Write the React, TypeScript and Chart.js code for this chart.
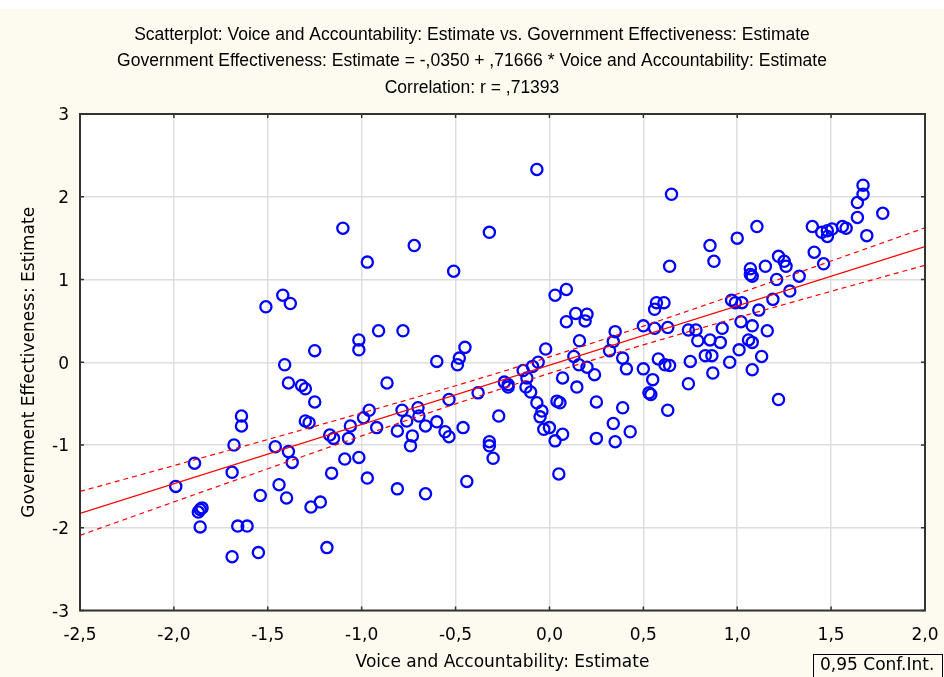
import React, { useEffect, useRef } from "react";
import { Chart, registerables } from "chart.js";

Chart.register(...registerables);

// ---------- texts ----------
const TITLE_LINES = [
  "Scatterplot: Voice and Accountability: Estimate vs. Government Effectiveness: Estimate",
  "Government Effectiveness: Estimate = -,0350 + ,71666 * Voice and Accountability: Estimate",
  "Correlation: r = ,71393",
];
const X_TITLE = "Voice and Accountability: Estimate";
const Y_TITLE = "Government Effectiveness: Estimate";
const LEGEND_TEXT = "0,95 Conf.Int.";

// ---------- axes ----------
const X_TICK_LABELS = ["-2,5", "-2,0", "-1,5", "-1,0", "-0,5", "0,0", "0,5", "1,0", "1,5", "2,0"];
const Y_TICK_LABELS = ["-3", "-2", "-1", "0", "1", "2", "3"];
const X_MIN = -2.5;
const X_MAX = 2.0;
const X_STEP = 0.5;
const Y_MIN = -3;
const Y_MAX = 3;
const Y_STEP = 1;

// ---------- regression (from the title) ----------
const INTERCEPT = -0.035;
const SLOPE = 0.71666;
const T_CRIT = 1.972; // 0.95 two-sided

// ---------- data ----------
const voiceAccountability = [
  -1.51, -1.42, -1.38, -1.41, -1.39, -1.32, -1.30, -1.64, -1.64, -1.68, -1.46, -1.39, -1.37, -1.89,
  -1.69, -1.99, -1.44, -1.54, -1.40, -1.85, -1.87, -1.86, -1.86, -1.66, -1.61, -1.69, -1.55,
  -1.10, -0.72, -0.97, -0.91, -0.78, -1.015, -1.015, -1.25, -0.865, -1.25, -1.30, -1.28, -0.96,
  -0.99, -1.06, -0.92, -1.17, -1.15, -1.07, -1.09, -1.015, -1.16, -0.97, -1.27, -1.22, -1.185,
  -0.785, -0.70, -0.76, -0.695, -0.81, -0.66, -0.60, -0.73, -0.74, -0.81, -0.66, -0.60,
  -0.51, -0.32, -0.45, -0.48, -0.49, -0.556, -0.535, -0.46, -0.535, -0.38, -0.27, -0.32, -0.32,
  -0.30, -0.44, -0.24, -0.22, -0.22, -0.14, -0.09, -0.06, -0.12, -0.125, -0.10, -0.067, -0.04,
  -0.05, -0.03, 0.0, 0.03, 0.07, 0.05, 0.04, 0.056, -0.067, -0.02,
  0.03, 0.09, 0.09, 0.14, 0.19, 0.20, 0.16, 0.13, 0.35, 0.34, 0.32, 0.39, 0.50, 0.56, 0.63, 0.56,
  0.57, 0.61, 0.65, 0.64, 0.58, 0.20, 0.157, 0.41, 0.50, 0.615, 0.64, 0.07, 0.146, 0.24, 0.25,
  0.25, 0.34, 0.35, 0.39, 0.43, 0.55, 0.53, 0.54, 0.63,
  0.74, 0.78, 0.79, 0.855, 0.92, 0.83, 0.865, 0.75, 0.87, 0.74, 0.855, 0.876, 1.67, 1.67, 1.64,
  1.775, 1.64, 1.105, 1.00, 1.40, 1.45, 1.48, 1.505, 1.48, 1.56, 1.58, 1.69, 1.41, 1.46, 1.22,
  1.25, 1.26, 1.15, 1.07, 1.07, 1.08, 1.33, 1.21, 1.28, 1.19, 1.115, 0.97, 0.99, 1.025, 1.02,
  1.08, 1.16, 0.91, 1.06, 1.08, 1.01, 1.13, 0.96, 1.08, 1.22,
];
const governmentEffectiveness = [
  0.67, 0.81, 0.71, -0.03, -0.25, -0.28, -0.32, -0.65, -0.77, -1.0, -1.02, -1.08, -1.21, -1.22,
  -1.33, -1.50, -1.48, -1.61, -1.64, -1.76, -1.81, -1.78, -1.99, -1.98, -1.98, -2.35, -2.30,
  1.62, 1.41, 1.21, 0.38, 0.38, 0.27, 0.15, 0.14, -0.25, -0.48, -0.71, -0.73, -0.58,
  -0.67, -0.77, -0.79, -0.88, -0.92, -0.92, -1.17, -1.15, -1.34, -1.40, -1.75, -1.69, -2.24,
  -0.58, -0.55, -0.71, -0.65, -0.83, -0.77, -0.72, -0.89, -1.01, -1.53, -1.59, 0.01,
  1.10, 1.57, 0.18, 0.05, -0.03, -0.84, -0.90, -0.79, -0.45, -0.37, -0.65, -0.96, -1.01,
  -1.16, -1.44, -0.24, -0.27, -0.30, -0.10, -0.05, 0.0, -0.19, -0.30, -0.36, -0.49, -0.59,
  -0.66, -0.81, -0.79, -0.95, -0.87, -1.35, -0.47, -0.49, 2.33, 0.16,
  0.81, 0.88, 0.49, 0.59, 0.50, 0.58, 0.26, 0.07, 0.37, 0.25, 0.14, 0.05, 0.44, 0.41, 0.42, 0.64,
  0.72, 0.72, 2.03, 1.16, 0.04, -0.06, -0.03, -0.08, -0.08, -0.03, -0.04, -0.19, -0.30, -0.15, -0.48,
  -0.92, -0.74, -0.96, -0.55, -0.84, -0.21, -0.37, -0.39, -0.58,
  0.39, 0.39, 0.26, 0.27, 0.41, 0.08, 0.08, 0.01, -0.13, -0.26, 1.41, 1.22, 2.14, 2.03, 1.93,
  1.80, 1.75, 1.64, 1.50, 1.64, 1.57, 1.59, 1.61, 1.52, 1.64, 1.62, 1.53, 1.33, 1.19, 1.28,
  1.22, 1.16, 1.16, 1.13, 1.06, 1.04, 1.04, 1.00, 0.86, 0.76, 0.63, 0.75, 0.72, 0.72, 0.49,
  0.44, 0.38, 0.24, 0.27, 0.24, 0.15, 0.07, 0.00, -0.09, -0.45,
];

// ---------- styles ----------
const PAGE_BG = "#fdfaf0";
const POINT_COLOR = "#0000ff";
const LINE_COLOR = "#ff0000";
const GRID_COLOR = "#dedede";
const FRAME_COLOR = "#333333";
const FONT_FAMILY = "'DejaVu Sans', Verdana, sans-serif";
const TITLE_FONT = "17.5px 'Liberation Sans', Arial, sans-serif";
const TITLE_Y = [35, 61.5, 88];

// ---------- derived tables ----------
const points = voiceAccountability.map((x, i) => ({ x, y: governmentEffectiveness[i] }));

const n = voiceAccountability.length;
const meanX = voiceAccountability.reduce((s, v) => s + v, 0) / n;
const sxx = voiceAccountability.reduce((s, v) => s + (v - meanX) * (v - meanX), 0);
const sse = points.reduce((s, p) => {
  const r = p.y - (INTERCEPT + SLOPE * p.x);
  return s + r * r;
}, 0);
const resSd = Math.sqrt(sse / (n - 2));

const fitLine = [X_MIN, X_MAX].map((x) => ({ x, y: INTERCEPT + SLOPE * x }));
const bandXs: number[] = [];
for (let k = 0; k <= 90; k++) bandXs.push(X_MIN + ((X_MAX - X_MIN) * k) / 90);
const halfWidth = (x: number) => T_CRIT * resSd * Math.sqrt(1 / n + ((x - meanX) * (x - meanX)) / sxx);
const upperBand = bandXs.map((x) => ({ x, y: INTERCEPT + SLOPE * x + halfWidth(x) }));
const lowerBand = bandXs.map((x) => ({ x, y: INTERCEPT + SLOPE * x - halfWidth(x) }));

const framePlugin = {
  id: "statFrame",
  beforeDraw(chart: any) {
    const { ctx, chartArea: a, width, height } = chart;
    ctx.save();
    ctx.fillStyle = PAGE_BG;
    ctx.fillRect(0, 0, width, height);
    ctx.fillStyle = "#ffffff";
    ctx.fillRect(0, 0, width, 9);
    ctx.fillRect(a.left, a.top, a.right - a.left, a.bottom - a.top);
    ctx.restore();
  },
  afterDraw(chart: any) {
    const { ctx, chartArea: a, width } = chart;
    const xs = chart.scales.x;
    const ys = chart.scales.y;
    ctx.save();
    // inner tick marks
    ctx.strokeStyle = FRAME_COLOR;
    ctx.lineWidth = 1.5;
    ctx.beginPath();
    xs.ticks.forEach((t: any) => {
      const px = xs.getPixelForValue(t.value);
      ctx.moveTo(px, a.top);
      ctx.lineTo(px, a.top + 4);
      ctx.moveTo(px, a.bottom);
      ctx.lineTo(px, a.bottom - 4);
    });
    ys.ticks.forEach((t: any) => {
      const py = ys.getPixelForValue(t.value);
      ctx.moveTo(a.left, py);
      ctx.lineTo(a.left + 4, py);
      ctx.moveTo(a.right, py);
      ctx.lineTo(a.right - 4, py);
    });
    ctx.stroke();
    // frame
    ctx.lineWidth = 2;
    ctx.strokeRect(a.left, a.top, a.right - a.left, a.bottom - a.top);
    // title
    ctx.fillStyle = "#000000";
    ctx.font = TITLE_FONT;
    ctx.textAlign = "center";
    ctx.textBaseline = "middle";
    TITLE_LINES.forEach((t, i) => ctx.fillText(t, width / 2, TITLE_Y[i]));
    // legend box
    ctx.font = `17px ${FONT_FAMILY}`;
    ctx.textAlign = "left";
    ctx.fillText(LEGEND_TEXT, 820, 666);
    ctx.lineWidth = 1;
    ctx.strokeStyle = "#000000";
    ctx.strokeRect(813.5, 654.5, 129, 30);
    ctx.restore();
  },
};

export default function App() {
  const canvasRef = useRef<HTMLCanvasElement | null>(null);

  useEffect(() => {
    document.body.style.margin = "0";
    document.body.style.background = PAGE_BG;
    const canvas = canvasRef.current;
    if (!canvas) return;
    const chart = new Chart(canvas, {
      type: "scatter",
      data: {
        datasets: [
          {
            type: "line",
            data: fitLine,
            borderColor: LINE_COLOR,
            borderWidth: 1.2,
            pointRadius: 0,
            fill: false,
            tension: 0,
          } as any,
          {
            type: "line",
            data: upperBand,
            borderColor: LINE_COLOR,
            borderWidth: 1.2,
            borderDash: [5, 4],
            pointRadius: 0,
            fill: false,
            tension: 0,
          } as any,
          {
            type: "line",
            data: lowerBand,
            borderColor: LINE_COLOR,
            borderWidth: 1.2,
            borderDash: [5, 4],
            pointRadius: 0,
            fill: false,
            tension: 0,
          } as any,
          {
            type: "scatter",
            data: points,
            pointStyle: "circle",
            pointRadius: 5.6,
            pointHoverRadius: 5.6,
            borderColor: POINT_COLOR,
            backgroundColor: "rgba(0,0,0,0)",
            borderWidth: 2.3,
          } as any,
        ],
      },
      options: {
        responsive: false,
        animation: false,
        devicePixelRatio: 1,
        layout: { padding: { top: 114, right: 19, bottom: 0, left: 0 } },
        plugins: { legend: { display: false }, tooltip: { enabled: false } },
        scales: {
          x: {
            type: "linear",
            min: X_MIN,
            max: X_MAX,
            ticks: {
              stepSize: X_STEP,
              autoSkip: false,
              maxRotation: 0,
              padding: 15,
              color: "#000000",
              font: { family: FONT_FAMILY, size: 17 },
              callback: (_v: any, i: number) => X_TICK_LABELS[i],
            },
            grid: { color: GRID_COLOR, lineWidth: 1.5, drawTicks: false },
            border: { display: false },
            title: {
              display: true,
              text: X_TITLE,
              color: "#000000",
              font: { family: FONT_FAMILY, size: 17 },
              padding: { top: 0, bottom: 4 },
            },
            afterFit: (s: any) => {
              s.height = 66.5;
              s.paddingLeft = 0;
              s.paddingRight = 0;
            },
          },
          y: {
            type: "linear",
            min: Y_MIN,
            max: Y_MAX,
            ticks: {
              stepSize: Y_STEP,
              autoSkip: false,
              padding: 11,
              labelOffset: 2,
              color: "#000000",
              font: { family: FONT_FAMILY, size: 17 },
              callback: (_v: any, i: number) => Y_TICK_LABELS[i],
            },
            grid: { color: GRID_COLOR, lineWidth: 1.5, drawTicks: false },
            border: { display: false },
            title: {
              display: true,
              text: Y_TITLE,
              color: "#000000",
              font: { family: FONT_FAMILY, size: 17 },
              padding: { top: 19, bottom: 0 },
            },
            afterFit: (s: any) => {
              s.width = 80;
              s.paddingTop = 0;
              s.paddingBottom = 0;
            },
          },
        },
      } as any,
      plugins: [framePlugin],
    });
    return () => chart.destroy();
  }, []);

  return (
    <div style={{ width: 944, height: 677, background: PAGE_BG }}>
      <canvas ref={canvasRef} width={944} height={677} style={{ display: "block" }} />
    </div>
  );
}
